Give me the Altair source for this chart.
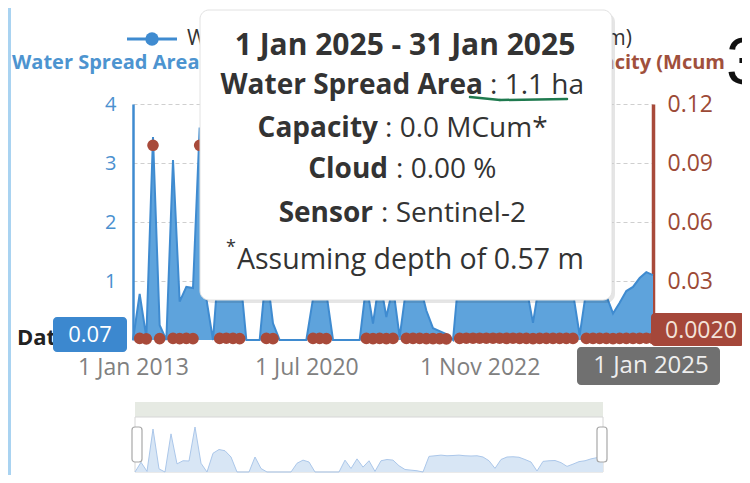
import altair as alt
import pandas as pd

# ---------------- data ----------------
dates = [
    "2013-01", "2013-10", "2013-11", "2013-12", "2014-01", "2014-10", "2014-11", "2014-12", "2015-01", "2015-02",
    "2015-10", "2015-11", "2016-01", "2016-10", "2016-11", "2016-12", "2017-01", "2017-11", "2018-01", "2018-10",
    "2018-11", "2018-12", "2019-01", "2019-11", "2019-12", "2020-01", "2020-07",
    "2020-08", "2020-09", "2020-10", "2020-11", "2020-12", "2021-01", "2021-02", "2021-03", "2021-04", "2021-05",
    "2021-06", "2021-09", "2021-10", "2021-11", "2021-12", "2022-01", "2022-02", "2022-03", "2022-04", "2022-05",
    "2022-06", "2022-07", "2022-08", "2022-09", "2022-10", "2022-11",
    "2022-12", "2023-01", "2023-02", "2023-03", "2023-04", "2023-05", "2023-06", "2023-07", "2023-08", "2023-09",
    "2023-10", "2023-11", "2023-12", "2024-01", "2024-02", "2024-03", "2024-04", "2024-05", "2024-06", "2024-07",
    "2024-08", "2024-09", "2024-10", "2024-11", "2024-12", "2025-01",
]

water_spread_ha = [
    0.0, 0.78, 0.05, 3.44, 0.25, 0.0, 3.05, 0.65, 0.9, 0.88,
    3.6, 0.7, 0.0, 1.5, 1.8, 1.7, 1.2, 0.0, 0.0, 0.0,
    1.2, 0.28, 0.0, 0.0, 0.0, 0.0, 0.0, 0.7, 0.95, 0.8,
    0.0, 0.0, 0.0, 0.0, 0.0, 0.95, 0.28, 1.05, 0.39, 0.9,
    0.05, 0.9, 1.0, 0.95, 0.5, 0.2, 0.15, 0.1, 0.0, 1.25,
    1.3, 1.35, 1.3, 1.32, 1.35, 1.3, 1.28, 1.3, 1.2, 0.9,
    0.29, 1.0, 1.2, 1.22, 1.18, 1.0, 0.8, 0.08, 0.85, 0.9,
    0.92, 0.75, 0.45, 0.63, 0.83, 0.9, 1.05, 1.15, 1.1,
]

capacity_mcum = [
    None, 0.0008, 0.0006, 0.099, 0.0007, None, 0.0008, 0.0007, 0.0008, 0.0007,
    0.099, None, None, 0.0008, 0.0009, 0.0008, 0.0007, None, None, None,
    0.0008, 0.0007, None, None, None, None, None, 0.0008, 0.0008, 0.0007,
    None, None, None, None, None, 0.0008, 0.0007, 0.0008, 0.0007, 0.0008,
    None, 0.0008, 0.0008, 0.0008, 0.0007, 0.0007, 0.0007, 0.0006, None, 0.0008,
    0.0009, 0.0009, 0.0009, 0.0009, 0.0009, 0.0009, 0.0008, 0.0009, 0.0008, 0.0008,
    0.0007, 0.0008, 0.0008, 0.0008, 0.0008, 0.0008, 0.0008, None, 0.0008, 0.0008,
    0.0008, 0.0008, 0.0007, 0.0008, 0.0008, 0.0008, 0.0008, 0.0009, 0.0008,
]

tick_index = [0, 26, 52]
month_names = ["Jan", "Feb", "Mar", "Apr", "May", "Jun", "Jul", "Aug", "Sep", "Oct", "Nov", "Dec"]


def fmt(d):
    y, m = d.split("-")
    return f"1 {month_names[int(m) - 1]} {y}"


tick_labels = [fmt(dates[i]) for i in tick_index]

df = pd.DataFrame({
    "idx": list(range(len(dates))),
    "date": dates,
    "area": water_spread_ha,
    "cap": capacity_mcum,
})
n_last = len(dates) - 1

label_expr = " : ".join(
    [f"datum.value == {i} ? '{lab}'" for i, lab in zip(tick_index, tick_labels)]
) + " : ''"

FONT = "Open Sans"
BLUE = "#3f8bd0"
AREA_BLUE = "#5ea3dc"
RED = "#a84a3a"

# ---------------- main chart ----------------
x_main = alt.X(
    "idx:Q",
    scale=alt.Scale(domain=[0, n_last], nice=False, zero=False),
    axis=alt.Axis(
        values=tick_index, labelExpr=label_expr, grid=False, domain=False, ticks=False,
        labelFontSize=23, labelColor="#808080", labelPadding=16, labelFlush=False,
        labelOverlap=False, labelFont=FONT, title=None,
    ),
)

area = alt.Chart(df).mark_area(
    color=AREA_BLUE, opacity=1,
    line={"color": BLUE, "strokeWidth": 2},
).encode(
    x=x_main,
    y=alt.Y(
        "area:Q",
        scale=alt.Scale(domain=[0, 4], nice=False),
        axis=alt.Axis(
            orient="left", values=[1, 2, 3, 4], title=None, ticks=False,
            domainColor=BLUE, domainWidth=2.5, labelColor="#4a90cf", labelFontSize=20,
            labelPadding=17, labelFont=FONT, gridColor="#cfcfcf", gridDash=[4, 3],
        ),
    ),
)

points = alt.Chart(df).transform_filter("isValid(datum.cap)").mark_circle(
    color=RED, size=135, opacity=1
).encode(
    x=x_main,
    y=alt.Y(
        "cap:Q",
        scale=alt.Scale(domain=[0, 0.12], nice=False),
        axis=alt.Axis(
            orient="right", values=[0.03, 0.06, 0.09, 0.12], format=".2f", title=None,
            ticks=False, grid=False, domainColor=RED, domainWidth=3.5, labelColor="#9c4a36",
            labelFontSize=23, labelPadding=14, labelFont=FONT,
        ),
    ),
)

main = alt.layer(area, points).resolve_scale(y="independent")

# ---------------- helpers ----------------
one = alt.Chart(pd.DataFrame({"k": [0]}))


def rect(x, x2, y, y2, **kw):
    return one.mark_rect(**kw).encode(
        x=alt.value(x), x2=alt.value(x2), y=alt.value(y), y2=alt.value(y2)
    )


def text(t, x, y, **kw):
    kw.setdefault("font", FONT)
    return one.mark_text(text=t, **kw).encode(x=alt.value(x), y=alt.value(y))


# ---------------- overview (data zoom) ----------------
mini = alt.Chart(df).mark_area(
    color="#d8e6f5", opacity=1, line={"color": "#abc7ea", "strokeWidth": 1}
).encode(
    x=alt.X("idx:Q", scale=alt.Scale(domain=[0, n_last], range=[2, 470], nice=False, zero=False), axis=None),
    y=alt.Y("area:Q", scale=alt.Scale(domain=[0, 4], range=[368, 318], nice=False), axis=None),
)

mini_band = rect(2, 470, 298, 313, fill="#e6eae3")
mini_frame = rect(2, 470, 313, 368, fill="#ffffff", stroke="#d6d6d6", strokeWidth=1)
handle_l = rect(-1, 9, 323, 358, fill="#ffffff", stroke="#a8a8a8", strokeWidth=1.2, cornerRadius=3)
handle_r = rect(464, 474, 323, 358, fill="#ffffff", stroke="#a8a8a8", strokeWidth=1.2, cornerRadius=3)

# ---------------- headers / legend (partly hidden by the tooltip) ----------------
stripe = rect(-125, -122, -96, 371, fill="#a9d3f1")
legend_line = one.mark_rule(color=BLUE, strokeWidth=3).encode(
    x=alt.value(-6), x2=alt.value(44), y=alt.value(-65), y2=alt.value(-65)
)
legend_dot = one.mark_circle(color=BLUE, size=180, opacity=1).encode(x=alt.value(19), y=alt.value(-65))
legend_txt = text("W", 54, -65, align="left", baseline="middle", fontSize=21, color="#333333")
legend_txt2 = text("cum)", 499, -65, align="right", baseline="middle", fontSize=21, color="#333333")
ytitle_l = text("Water Spread Area", -121, -41, align="left", baseline="middle", fontSize=20,
                fontWeight="bold", color="#4d94d0")
ytitle_r = text("acity (Mcum", 592, -41, align="right", baseline="middle", fontSize=20,
                fontWeight="bold", color="#a0503c")
big3 = text("3", 593, -20, align="left", baseline="alphabetic", fontSize=66, color="#111111",
            font="Liberation Sans")

# ---------------- axis pointer labels ----------------
date_lbl = text("Date", -116, 234, align="left", baseline="middle", fontSize=22, fontWeight="bold",
                color="#222222")
ptr_l_box = rect(-80, -6, 213, 248, fill="#3c88cf", cornerRadius=4)
ptr_l_txt = text("0.07", -43, 231, align="center", baseline="middle", fontSize=22, color="#ffffff")
ptr_r_box = rect(518, 612, 209, 242, fill="#a5473a", cornerRadius=4)
ptr_r_txt = text("0.0020", 532, 227, align="left", baseline="middle", fontSize=23, color="#f3e2d8")
ptr_x_box = rect(444, 587, 243, 281, fill="#707070", cornerRadius=4)
ptr_x_txt = text(fmt(dates[-1]), 518, 262, align="center", baseline="middle", fontSize=24, color="#eeeeee")

# ---------------- tooltip ----------------
tip_shadow = rect(70, 482, -91, 199, fill="#000000", opacity=0.10, cornerRadius=9)
tip_box = rect(67, 479, -94, 196, fill="#ffffff", stroke="#e2e2e2", strokeWidth=1, cornerRadius=9)
TC = "#333333"
tip_layers = [
    text("1 Jan 2025 - 31 Jan 2025", 272, -58, align="center", baseline="middle", fontSize=30,
         fontWeight="bold", color=TC),
    text("Water Spread Area", 350, -18, align="right", baseline="middle", fontSize=28, fontWeight="bold", color=TC),
    text(": 1.1 ha", 357, -18, align="left", baseline="middle", fontSize=28, color=TC),
    text("Capacity", 245, 25, align="right", baseline="middle", fontSize=28, fontWeight="bold", color=TC),
    text(": 0.0 MCum*", 252, 25, align="left", baseline="middle", fontSize=28, color=TC),
    text("Cloud", 255, 66, align="right", baseline="middle", fontSize=28, fontWeight="bold", color=TC),
    text(": 0.00 %", 263, 66, align="left", baseline="middle", fontSize=28, color=TC),
    text("Sensor", 240, 110, align="right", baseline="middle", fontSize=28, fontWeight="bold", color=TC),
    text(": Sentinel-2", 248, 110, align="left", baseline="middle", fontSize=28, color=TC),
    text("*", 93, 144, align="left", baseline="middle", fontSize=18, color=TC),
    text("Assuming depth of 0.57 m", 104, 156, align="left", baseline="middle", fontSize=28.5, color=TC),
]
underline1 = one.mark_rule(color="#1f7a4f", strokeWidth=2.5, strokeCap="round").encode(
    x=alt.value(337), x2=alt.value(367), y=alt.value(-7), y2=alt.value(-4)
)
underline2 = one.mark_rule(color="#1f7a4f", strokeWidth=2.5, strokeCap="round").encode(
    x=alt.value(367), x2=alt.value(434), y=alt.value(-4), y2=alt.value(-5)
)

chart = alt.layer(
    stripe, main,
    mini_band, mini_frame, mini, handle_l, handle_r,
    legend_line, legend_dot, legend_txt, legend_txt2, ytitle_l, ytitle_r,
    date_lbl, ptr_l_box, ptr_l_txt, ptr_r_box, ptr_r_txt, ptr_x_box, ptr_x_txt,
    tip_shadow, tip_box, *tip_layers, underline1, underline2,
    big3,
).resolve_scale(
    x="independent", y="independent"
).properties(
    width=520, height=236,
    autosize=alt.AutoSizeParams(type="none"),
    padding={"left": 125, "top": 96, "right": 89, "bottom": 135},
).configure_view(strokeWidth=0)

chart.save("out.html", embed_options={"renderer": "svg", "actions": False})
